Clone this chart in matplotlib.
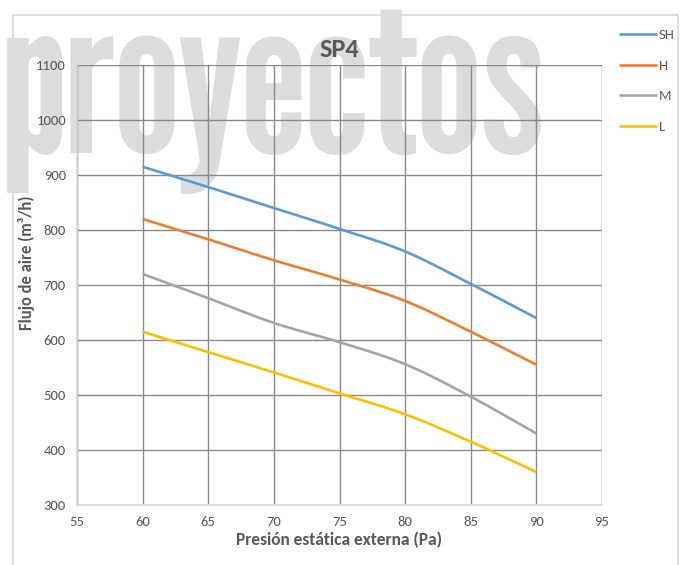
import matplotlib
matplotlib.use("Agg")
import matplotlib.pyplot as plt
from matplotlib.patches import Rectangle
import numpy as np

# data
presion = [60, 65, 70, 75, 80, 85, 90]
flujo_sh = [915, 878, 840, 802, 761, 702, 640]
flujo_h = [820, 783, 745, 710, 671, 615, 555]
flujo_m = [720, 676, 631, 596, 556, 497, 430]
flujo_l = [615, 578, 541, 503, 465, 415, 360]
series = ["SH", "H", "M", "L"]
colors = ["#5B9BD5", "#ED7D31", "#A5A5A5", "#FFC000"]

def smooth(x, y, n=20):
    # excel-like smoothed line (catmull-rom through the points)
    x = np.asarray(x, float)
    y = np.asarray(y, float)
    px = np.concatenate([[x[0]], x, [x[-1]]])
    py = np.concatenate([[y[0]], y, [y[-1]]])
    xs, ys = [], []
    t = np.linspace(0, 1, n)
    for i in range(1, len(px) - 2):
        for p, out in ((px, xs), (py, ys)):
            p0, p1, p2, p3 = p[i - 1], p[i], p[i + 1], p[i + 2]
            c1 = p1 + (p2 - p0) / 6
            c2 = p2 - (p3 - p1) / 6
            out.extend((1 - t)**3 * p1 + 3 * (1 - t)**2 * t * c1
                       + 3 * (1 - t) * t**2 * c2 + t**3 * p2)
    return xs, ys

plt.rcParams["font.family"] = ["Carlito", "DejaVu Sans"]

fig = plt.figure(figsize=(6.81, 5.65), dpi=100)
ax = fig.add_axes([77/681, 60/565, 525/681, 440/565])
ax.set_facecolor("none")

# outer chart border
fig.patches.append(Rectangle((13/681, -0.01), 665/681, 1 - 15/565 + 0.01,
                             transform=fig.transFigure, fill=False,
                             edgecolor="#d9d9d9", linewidth=1.2, zorder=-3))

# watermark
fig.text(2/681, 1 - 153/565, "proyectos", fontsize=152,
         family=["League Gothic", "DejaVu Sans"], color="#dcdcdc",
         ha="left", va="baseline", zorder=-2)

for name, vals, c in zip(series, [flujo_sh, flujo_h, flujo_m, flujo_l],
                         colors):
    xs, ys = smooth(presion, vals)
    ax.plot(xs, ys, color=c, linewidth=1.9, label=name,
            solid_capstyle="butt", zorder=3)

ax.set_xlim(55, 95)
ax.set_ylim(300, 1100)
ax.set_xticks(np.arange(55, 96, 5))
ax.set_yticks(np.arange(300, 1101, 100))
ax.grid(True, color="#8a8a8a", linewidth=1.0)
ax.set_axisbelow(True)
for s in ["top", "right"]:
    ax.spines[s].set_visible(False)
for s in ["left", "bottom"]:
    ax.spines[s].set_color("#d9d9d9")
    ax.spines[s].set_linewidth(1.2)
ax.tick_params(length=0, labelsize=10.5, colors="#595959", pad=8)

ax.set_title("SP4", fontsize=19, fontweight="bold", color="#595959",
             pad=6)
ax.set_xlabel("Presión estática externa (Pa)", fontsize=12.5,
              fontweight="bold", color="#595959", labelpad=3)
ax.set_ylabel("Flujo de aire (m³/h)", fontsize=12, fontweight="bold",
              color="#595959")
ax.yaxis.set_label_coords(-0.08, 0.55)

fig.legend(loc="upper left", bbox_to_anchor=(606/681, 1 - 16/565),
           frameon=False, fontsize=10.5, handlelength=2.6,
           handletextpad=0.1, labelspacing=1.25, labelcolor="#595959")

plt.savefig("out.png", dpi=100)
